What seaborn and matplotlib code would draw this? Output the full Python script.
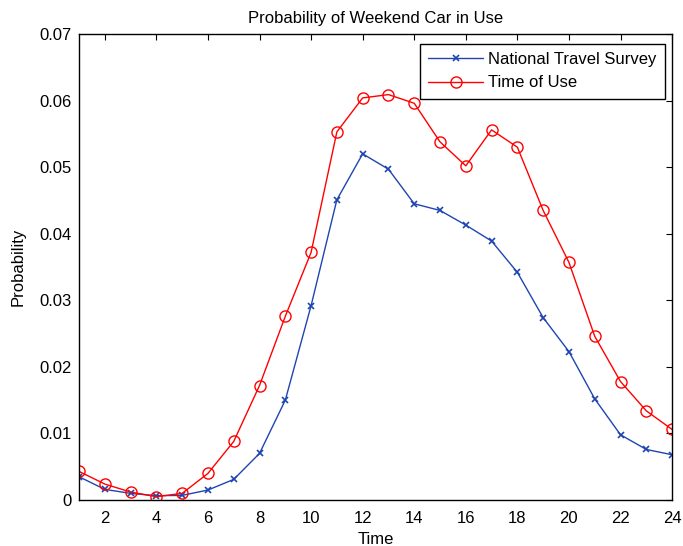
import numpy as np
import pandas as pd
import seaborn as sns
import matplotlib
matplotlib.use("Agg")
import matplotlib.pyplot as plt

hours = list(range(1, 25))
nts = [0.0035, 0.0016, 0.0010, 0.00065, 0.0007, 0.0015, 0.0031, 0.0070, 0.0150, 0.0292,
       0.0451, 0.0520, 0.0497, 0.0445, 0.0435, 0.0413, 0.0389, 0.0342, 0.0274, 0.0223,
       0.0152, 0.0098, 0.0076, 0.0068]
tou = [0.0043, 0.0024, 0.0012, 0.0005, 0.0010, 0.0040, 0.0088, 0.0172, 0.0276, 0.0372,
       0.0553, 0.0604, 0.0609, 0.0596, 0.0538, 0.0502, 0.0556, 0.0530, 0.0435, 0.0357,
       0.0246, 0.0178, 0.0134, 0.0106]
series_names = ["National Travel Survey", "Time of Use"]

df = pd.DataFrame({"Time": hours * 2,
                   "Probability": nts + tou,
                   "series": [series_names[0]] * 24 + [series_names[1]] * 24})

sns.set_style("white")
plt.rcParams['font.family'] = ['Liberation Sans', 'DejaVu Sans']
plt.rcParams['text.color'] = 'black'
plt.rcParams['axes.labelcolor'] = 'black'

fig = plt.figure(figsize=(6.83, 5.46), dpi=100)
ax = fig.add_axes([0.1157, 0.0842, 0.8683, 0.8535])

blue = "#1f45b0"
red = "#ff0000"
sns.lineplot(data=df[df.series == series_names[0]], x="Time", y="Probability", ax=ax,
             color=blue, marker="x", markersize=5, markeredgewidth=1.2,
             markeredgecolor=blue, linewidth=1, label=series_names[0])
sns.lineplot(data=df[df.series == series_names[1]], x="Time", y="Probability", ax=ax,
             color=red, marker="o", markersize=8, markerfacecolor="none",
             markeredgecolor=red, markeredgewidth=1, linewidth=1, label=series_names[1])

ax.set_xlim(1, 24)
ax.set_ylim(0, 0.07)
ax.set_xticks(range(2, 25, 2))
yt = np.arange(0, 0.071, 0.01)
ax.set_yticks(yt)
ax.set_yticklabels(["0"] + [f"{v:.2f}" for v in yt[1:]])
ax.tick_params(direction="in", top=True, right=True, length=4, width=0.8,
               labelsize=12, colors="black", pad=5)
ax.tick_params(axis="x", pad=8)
for s in ax.spines.values():
    s.set_color("black")
    s.set_linewidth(1)

ax.set_title("Probability of Weekend Car in Use", fontsize=12, pad=8, color="black")
ax.set_xlabel("Time", fontsize=12, labelpad=4)
ax.set_ylabel("Probability", fontsize=12, labelpad=10)

leg = ax.legend(loc="upper right", bbox_to_anchor=(0.988, 0.979), borderaxespad=0,
                fontsize=12, frameon=True, fancybox=False, edgecolor="black",
                framealpha=1, borderpad=0.5, handlelength=3.3, handletextpad=0.3,
                labelspacing=0.5)
leg.get_frame().set_linewidth(1)
for t in leg.get_texts():
    t.set_color("black")

fig.savefig("out.png", dpi=100)
